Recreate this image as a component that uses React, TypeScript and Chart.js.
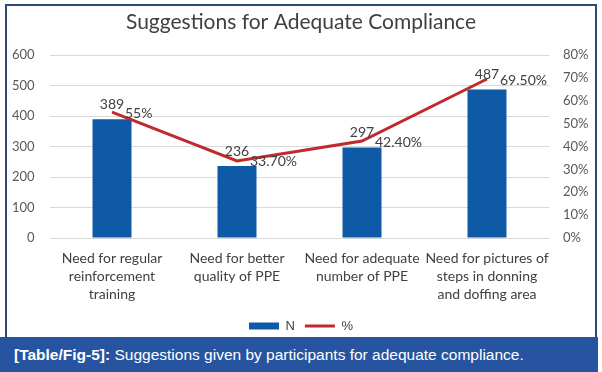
import React, { useEffect, useRef } from "react";
import { Chart, registerables } from "chart.js";

Chart.register(...registerables);

const titleText = "Suggestions for Adequate Compliance";
const categories: string[][] = [
  ["Need for regular", "reinforcement", "training"],
  ["Need for better", "quality of PPE"],
  ["Need for adequate", "number of PPE"],
  ["Need for pictures of", "steps in donning", "and doffing area"],
];
const nValues = [389, 236, 297, 487];
const pctValues = [55, 33.7, 42.4, 69.5];
const pctLabels = ["55%", "33.70%", "42.40%", "69.50%"];
const seriesNames = ["N", "%"];
const captionBold = "[Table/Fig-5]:";
const captionText = " Suggestions given by participants for adequate compliance.";

const BAR_COLOR = "#0e5aa7";
const LINE_COLOR = "#be2a2e";
const LABEL_COLOR = "#404040";

const dataLabelPlugin = {
  id: "dataLabels",
  afterDatasetsDraw(chart: any) {
    const ctx = chart.ctx;
    ctx.save();
    ctx.fillStyle = LABEL_COLOR;
    ctx.font = '14px Lato, "Open Sans", sans-serif';
    const barMeta = chart.getDatasetMeta(0);
    barMeta.data.forEach((el: any, i: number) => {
      ctx.textAlign = "center";
      ctx.textBaseline = "alphabetic";
      ctx.fillText(String(nValues[i]), el.x, el.y - 10);
    });
    const lineMeta = chart.getDatasetMeta(1);
    lineMeta.data.forEach((el: any, i: number) => {
      ctx.textAlign = "left";
      ctx.textBaseline = "middle";
      ctx.fillText(pctLabels[i], el.x + 13, el.y + 1);
    });
    ctx.restore();
  },
};

export default function App() {
  const ref = useRef<HTMLCanvasElement | null>(null);

  useEffect(() => {
    if (!ref.current) return;
    const chart = new Chart(ref.current, {
      type: "bar",
      data: {
        labels: categories as any,
        datasets: [
          {
            type: "bar",
            label: seriesNames[0],
            data: nValues,
            backgroundColor: BAR_COLOR,
            borderWidth: 0,
            barPercentage: 0.312,
            categoryPercentage: 1,
            yAxisID: "y",
            order: 1,
          } as any,
          {
            type: "line",
            label: seriesNames[1],
            data: pctValues,
            borderColor: LINE_COLOR,
            backgroundColor: LINE_COLOR,
            borderWidth: 3,
            pointRadius: 0,
            pointHoverRadius: 0,
            pointBorderWidth: 3,
            pointBorderColor: LINE_COLOR,
            pointStyle: "line",
            tension: 0,
            fill: false,
            yAxisID: "y1",
            order: 0,
          } as any,
        ],
      },
      options: {
        responsive: false,
        maintainAspectRatio: false,
        animation: false,
        layout: { padding: { left: 0, right: 0, top: 0, bottom: 29.5 } },
        plugins: {
          tooltip: { enabled: false },
          title: {
            display: true,
            text: titleText,
            color: "#404040",
            font: { family: 'Lato, "Open Sans", sans-serif', size: 21, weight: "normal", lineHeight: 1.2 },
            padding: { top: 10, bottom: 19.8 },
          },
          legend: {
            display: true,
            position: "bottom",
            labels: {
              usePointStyle: true,
              pointStyleWidth: 30,
              boxHeight: 7,
              padding: 10,
              color: "#404040",
              font: { family: '"Liberation Sans", Arial, sans-serif', size: 13 },
              generateLabels: (c: any) => {
                const items = Chart.defaults.plugins.legend.labels.generateLabels(c);
                items.sort((a: any, b: any) => a.datasetIndex - b.datasetIndex);
                items.forEach((it: any) => {
                  if (it.datasetIndex === 0) {
                    it.pointStyle = "rect";
                    it.fillStyle = BAR_COLOR;
                    it.lineWidth = 0;
                  } else {
                    it.pointStyle = "line";
                    it.strokeStyle = LINE_COLOR;
                    it.lineWidth = 3;
                  }
                });
                return items;
              },
            },
          },
        },
        scales: {
          x: {
            grid: { display: false },
            border: { display: false },
            ticks: {
              color: "#404040",
              padding: 3,
              maxRotation: 0,
              autoSkip: false,
              font: { family: 'Lato, "Open Sans", sans-serif', size: 14, lineHeight: 1.3 },
            },
            afterFit: (s: any) => {
              s.height = 71.5;
            },
          },
          y: {
            position: "left",
            min: 0,
            max: 600,
            ticks: {
              stepSize: 100,
              color: "#595959",
              padding: 15,
              font: { family: 'Lato, "Open Sans", sans-serif', size: 13 },
            },
            grid: { color: "#d9d9d9", drawTicks: false, lineWidth: 1 },
            border: { display: false },
            afterFit: (s: any) => {
              s.width = 49.5;
            },
          },
          y1: {
            position: "right",
            min: 0,
            max: 80,
            ticks: {
              stepSize: 10,
              color: "#595959",
              padding: 13.5,
              callback: (v: any) => v + "%",
              font: { family: 'Lato, "Open Sans", sans-serif', size: 13 },
            },
            grid: { display: false, drawTicks: false },
            border: { display: false },
            afterFit: (s: any) => {
              s.width = 52.5;
            },
          },
        },
      },
      plugins: [dataLabelPlugin],
    } as any);
    return () => chart.destroy();
  }, []);

  return (
    <div style={{ position: "fixed", left: 0, top: 0, width: 602, height: 372, background: "#fff", overflow: "hidden" }}>
      <canvas ref={ref} width={602} height={372} style={{ position: "absolute", left: 0, top: 0, width: 602, height: 372 }} />
      <div
        style={{
          position: "absolute",
          left: 5,
          top: 4,
          width: 592,
          height: 336,
          border: "2px solid #2a4b73",
          boxSizing: "border-box",
          pointerEvents: "none",
        }}
      />
      <div
        style={{
          position: "absolute",
          left: 0,
          top: 337,
          width: 598,
          height: 35,
          background: "#2654a1",
          color: "#ffffff",
          boxSizing: "border-box",
          paddingLeft: 14,
          display: "flex",
          alignItems: "center",
          font: '15.5px "Liberation Sans", Arial, sans-serif',
          whiteSpace: "pre",
        }}
      >
        <b>{captionBold}</b>
        <span>{captionText}</span>
      </div>
    </div>
  );
}
